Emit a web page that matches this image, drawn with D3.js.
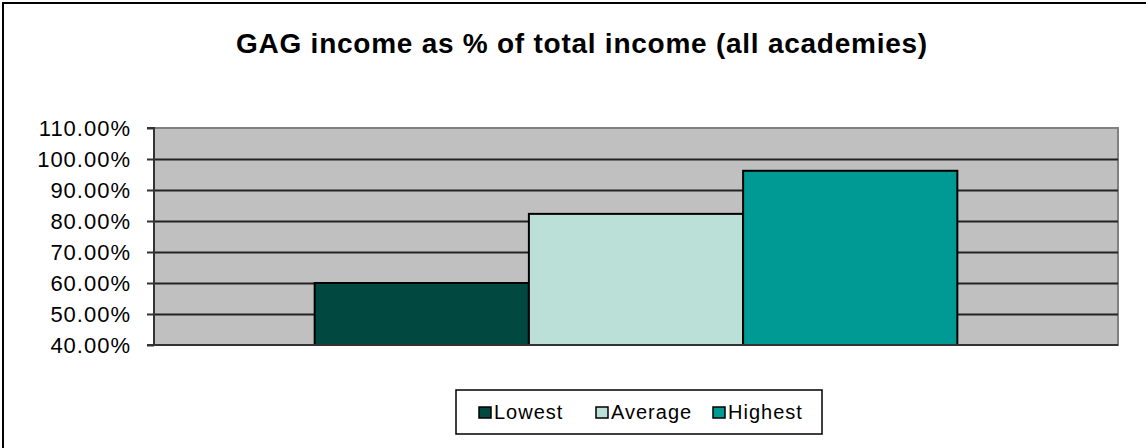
<!DOCTYPE html>
<html>
<head>
<meta charset="utf-8">
<script src="https://cdn.jsdelivr.net/npm/d3@7"></script>
<style>
  body { margin: 0; background: #fff; }
  svg { display: block; font-family: 'Liberation Sans', Arial, sans-serif; }
</style>
</head>
<body>
<div id="chart"></div>
<script>
const width = 1146;
const height = 448;

const categories = ['all academies'];
const seriesNames = ['Lowest', 'Average', 'Highest'];
const seriesValues = [60.0, 82.3, 96.2];
const seriesColors = ['#004840', '#bae0d8', '#009a94'];
const yTicks = [40, 50, 60, 70, 80, 90, 100, 110];

const plot = { left: 154, right: 1118, top: 128, bottom: 345 };

const svg = d3
  .select('#chart')
  .append('svg')
  .attr('width', width)
  .attr('height', height);

// chart area border (only top/left visible in the crop)
svg
  .append('rect')
  .attr('x', 3)
  .attr('y', 3)
  .attr('width', width + 10)
  .attr('height', height + 10)
  .attr('fill', '#fff')
  .attr('stroke', '#000')
  .attr('stroke-width', 2);

svg
  .append('text')
  .attr('x', 582)
  .attr('y', 53)
  .attr('text-anchor', 'middle')
  .style('font-size', '28px')
  .style('font-weight', 'bold')
  .style('letter-spacing', '0.75px')
  .text('GAG income as % of total income (all academies)');

const y = d3.scaleLinear().domain([40, 110]).range([plot.bottom, plot.top]);

const x0 = d3
  .scaleBand()
  .domain(categories)
  .range([plot.left, plot.right])
  .paddingOuter(0.25)
  .paddingInner(0);

const x1 = d3.scaleBand().domain(seriesNames).range([0, x0.bandwidth()]);

// plot background
svg
  .append('rect')
  .attr('x', plot.left)
  .attr('y', plot.top)
  .attr('width', plot.right - plot.left)
  .attr('height', plot.bottom - plot.top)
  .attr('fill', '#c0c0c0')
  .attr('stroke', '#808080')
  .attr('stroke-width', 2);

// gridlines
svg
  .append('g')
  .selectAll('line')
  .data(yTicks.slice(1, -1))
  .enter()
  .append('line')
  .attr('x1', plot.left)
  .attr('x2', plot.right)
  .attr('y1', (d) => Math.round(y(d)) + 0.5)
  .attr('y2', (d) => Math.round(y(d)) + 0.5)
  .attr('stroke', '#222')
  .attr('stroke-width', 2);

// bars
const data = seriesNames.map((s, i) => ({ name: s, value: seriesValues[i], color: seriesColors[i] }));

svg
  .append('g')
  .selectAll('rect')
  .data(data)
  .enter()
  .append('rect')
  .attr('x', (d) => x0(categories[0]) + x1(d.name))
  .attr('y', (d) => y(d.value))
  .attr('width', x1.bandwidth())
  .attr('height', (d) => y(40) - y(d.value))
  .attr('fill', (d) => d.color)
  .attr('stroke', '#000')
  .attr('stroke-width', 2);

// y axis
const yAxis = svg
  .append('g')
  .attr('transform', `translate(${plot.left},0)`)
  .call(
    d3
      .axisLeft(y)
      .tickValues(yTicks)
      .tickSize(7)
      .tickPadding(16)
      .tickFormat((d) => d.toFixed(2) + '%'),
  );
yAxis.select('.domain').attr('stroke', '#333').attr('stroke-width', 2).attr('d', `M-7,${plot.top}H0V${plot.bottom}H-7`);
yAxis.selectAll('.tick line').attr('stroke', '#333').attr('stroke-width', 2);
yAxis
  .selectAll('.tick text')
  .attr('fill', '#000')
  .style('font-size', '22px')
  .style('letter-spacing', '1px')
  .style('font-family', "'Liberation Sans', Arial, sans-serif");

// x axis line
svg
  .append('line')
  .attr('x1', plot.left)
  .attr('x2', plot.right)
  .attr('y1', plot.bottom)
  .attr('y2', plot.bottom)
  .attr('stroke', '#333')
  .attr('stroke-width', 2);

// legend
const legend = svg.append('g');
legend
  .append('rect')
  .attr('x', 456)
  .attr('y', 390)
  .attr('width', 366)
  .attr('height', 44)
  .attr('fill', '#fff')
  .attr('stroke', '#000')
  .attr('stroke-width', 1.5);

const legendX = [479, 596, 713];
const items = legend
  .selectAll('.item')
  .data(data)
  .enter()
  .append('g')
  .attr('transform', (d, i) => `translate(${legendX[i]},407)`);
items
  .append('rect')
  .attr('width', 12)
  .attr('height', 11)
  .attr('fill', (d) => d.color)
  .attr('stroke', '#000')
  .attr('stroke-width', 1.5);
items
  .append('text')
  .attr('x', 15)
  .attr('y', 12)
  .style('font-size', '20px')
  .style('letter-spacing', '1px')
  .text((d) => d.name);
</script>
</body>
</html>
